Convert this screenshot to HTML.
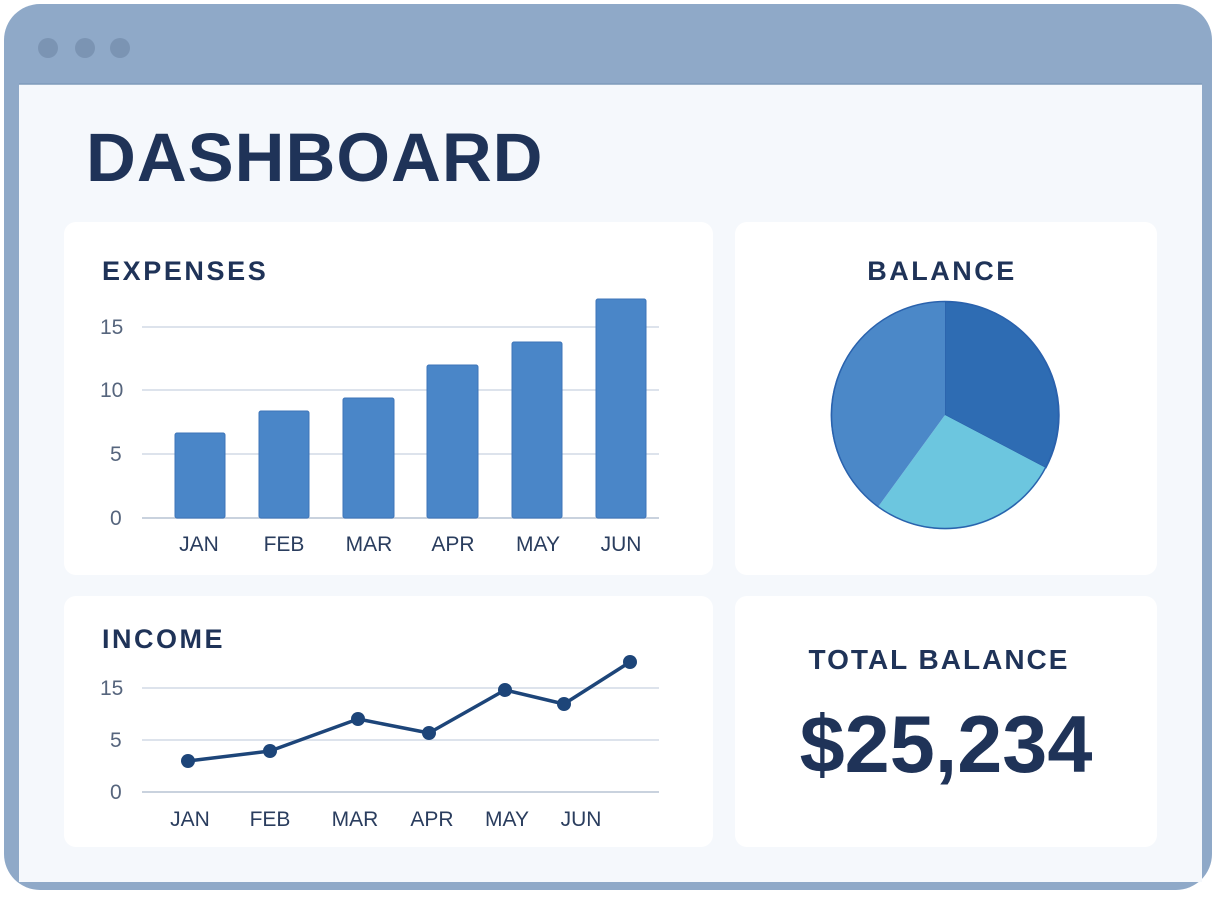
<!DOCTYPE html>
<html><head><style>
body{margin:0;width:1214px;height:894px;background:#fff;overflow:hidden;font-family:"Liberation Sans",sans-serif}
.t{font-family:"Liberation Sans",sans-serif}
</style></head><body>
<svg width="1214" height="894" xmlns="http://www.w3.org/2000/svg">
<rect x="4" y="4" width="1208" height="886" rx="36" fill="#8fa9c8"/>
<rect x="19" y="84" width="1183" height="798" fill="#f5f8fc"/>
<line x1="19" y1="84" x2="1202" y2="84" stroke="#7f9aba" stroke-width="1.5"/>
<circle cx="48" cy="48" r="10" fill="#7b94b3"/>
<circle cx="85" cy="48" r="10" fill="#7b94b3"/>
<circle cx="120" cy="48" r="10" fill="#7b94b3"/>
<text x="86" y="181" font-size="69" font-weight="bold" fill="#1f3358" letter-spacing="1" class="t">DASHBOARD</text>
<rect x="64" y="222" width="649" height="353" rx="12" fill="#fff"/>
<rect x="735" y="222" width="422" height="353" rx="12" fill="#fff"/>
<rect x="64" y="596" width="649" height="251" rx="12" fill="#fff"/>
<rect x="735" y="596" width="422" height="251" rx="12" fill="#fff"/>
<text x="102" y="280" font-size="27" font-weight="bold" fill="#1f3358" letter-spacing="2.6" class="t">EXPENSES</text>
<g stroke="#dde3ec" stroke-width="2"><line x1="142" y1="327" x2="659" y2="327"/><line x1="142" y1="390" x2="659" y2="390"/><line x1="142" y1="454" x2="659" y2="454"/></g>
<line x1="142" y1="518" x2="659" y2="518" stroke="#c9d2de" stroke-width="2"/>
<g font-size="21" fill="#56657d" class="t"><text x="100" y="334">15</text><text x="100" y="397">10</text><text x="110" y="461">5</text><text x="110" y="525">0</text></g>
<g fill="#4a86c8" stroke="#3d74b8" stroke-width="1">
<rect x="175" y="433" width="50" height="85" rx="2"/><rect x="259" y="411" width="50" height="107" rx="2"/><rect x="343" y="398" width="51" height="120" rx="2"/><rect x="427" y="365" width="51" height="153" rx="2"/><rect x="512" y="342" width="50" height="176" rx="2"/><rect x="596" y="299" width="50" height="219" rx="2"/></g>
<g font-size="21" fill="#2a3d5e" text-anchor="middle" class="t"><text x="199" y="551">JAN</text><text x="284" y="551">FEB</text><text x="369" y="551">MAR</text><text x="453" y="551">APR</text><text x="538" y="551">MAY</text><text x="621" y="551">JUN</text></g>
<text x="942" y="280" font-size="27" font-weight="bold" fill="#1f3358" letter-spacing="2.5" text-anchor="middle" class="t">BALANCE</text>
<path d="M945,415 L945,302 A113,113 0 0 1 1046,468 Z" fill="#2e6cb3" stroke="#2a5ea8" stroke-width="1"/>
<path d="M945,415 L1046,468 A113,113 0 0 1 878,507 Z" fill="#6cc6df"/>
<path d="M945,415 L878,507 A113,113 0 0 1 945,302 Z" fill="#4b88c8"/>
<circle cx="945" cy="415" r="113.5" fill="none" stroke="#2a62ad" stroke-width="1.5"/>
<text x="102" y="648" font-size="27" font-weight="bold" fill="#1f3358" letter-spacing="2.5" class="t">INCOME</text>
<g stroke="#dde3ec" stroke-width="2"><line x1="142" y1="688" x2="659" y2="688"/><line x1="142" y1="740" x2="659" y2="740"/></g>
<line x1="142" y1="792" x2="659" y2="792" stroke="#c9d2de" stroke-width="2"/>
<g font-size="21" fill="#56657d" class="t"><text x="100" y="695">15</text><text x="110" y="747">5</text><text x="110" y="799">0</text></g>
<polyline points="188,761 270,751 358,719 429,733 505,690 564,704 630,662" fill="none" stroke="#1d4579" stroke-width="3.5" stroke-linejoin="round"/>
<g fill="#1d4579"><circle cx="188" cy="761" r="7"/><circle cx="270" cy="751" r="7"/><circle cx="358" cy="719" r="7"/><circle cx="429" cy="733" r="7"/><circle cx="505" cy="690" r="7"/><circle cx="564" cy="704" r="7"/><circle cx="630" cy="662" r="7"/></g>
<g font-size="21" fill="#2a3d5e" text-anchor="middle" class="t"><text x="190" y="826">JAN</text><text x="270" y="826">FEB</text><text x="355" y="826">MAR</text><text x="432" y="826">APR</text><text x="507" y="826">MAY</text><text x="581" y="826">JUN</text></g>
<text x="939" y="669" font-size="28" font-weight="bold" fill="#1f3358" letter-spacing="2" text-anchor="middle" class="t">TOTAL BALANCE</text>
<text x="946" y="772" font-size="81" font-weight="bold" fill="#1f3358" text-anchor="middle" class="t">$25,234</text>
</svg>
</body></html>
